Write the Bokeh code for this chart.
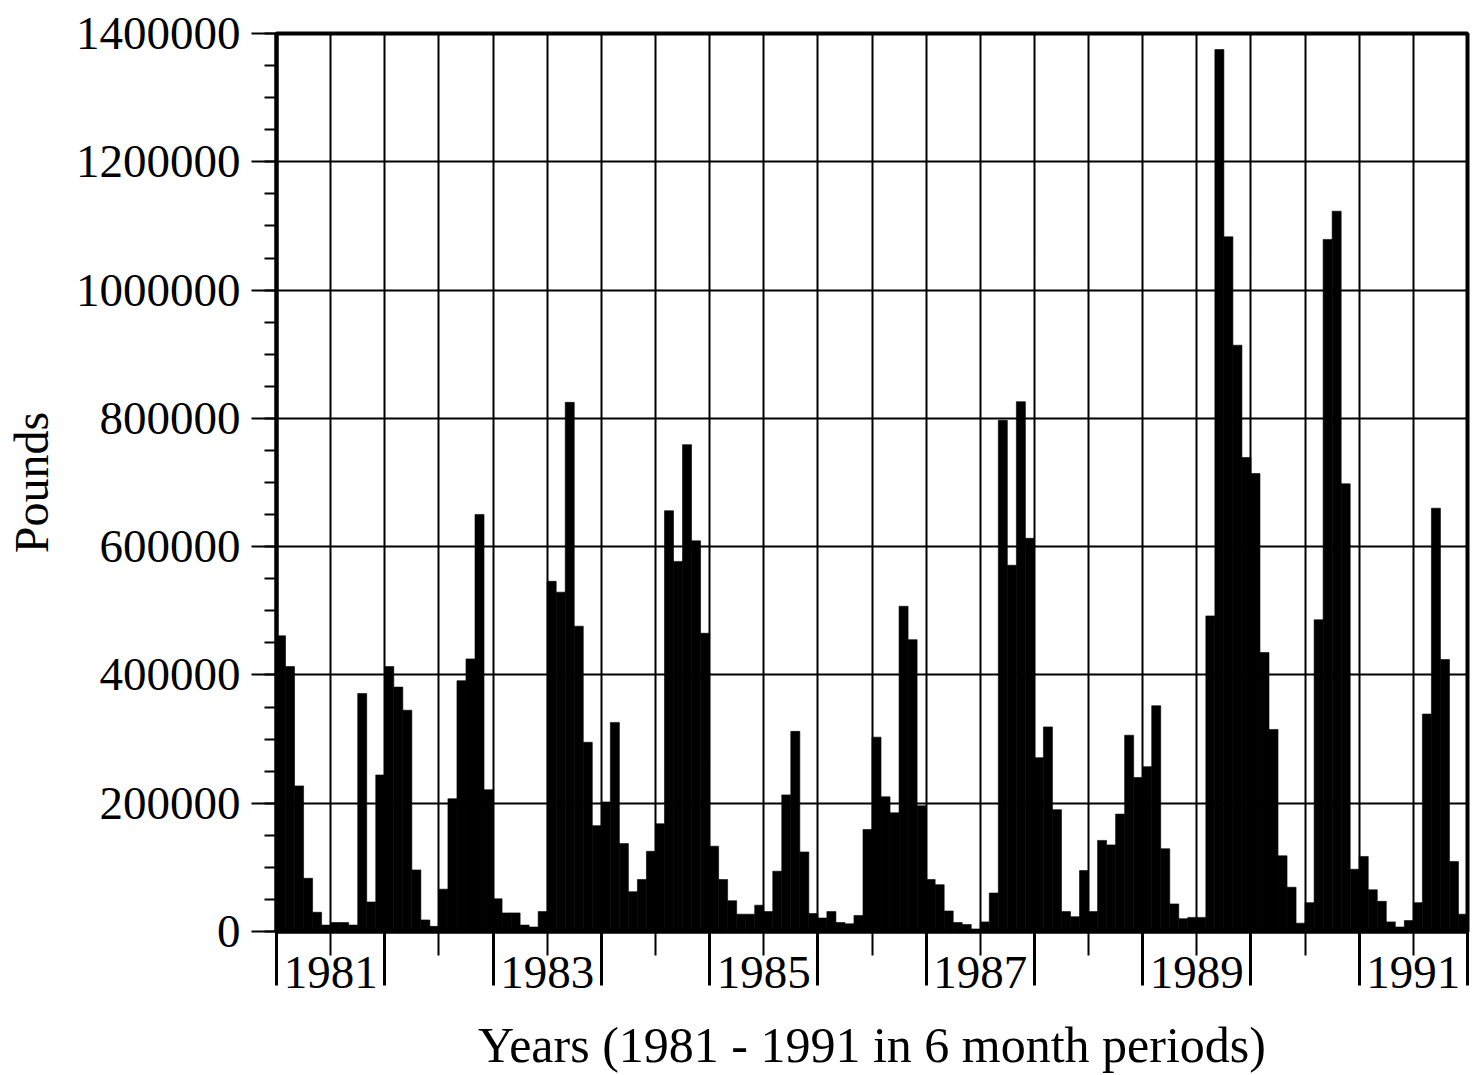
from bokeh.plotting import figure
from bokeh.models import Range1d, FixedTicker, NumeralTickFormatter
from bokeh.embed import file_html
from bokeh.resources import INLINE

# Monthly pounds (Jan..Dec of each year)
pounds_1981 = [461000, 413000, 227000, 83000, 30000, 10000, 14000, 14000, 10000, 371000, 46000, 244000]
pounds_1982 = [413000, 381000, 345000, 96000, 18000, 8000, 66000, 207000, 391000, 425000, 650000, 221000]
pounds_1983 = [51000, 29000, 29000, 10000, 7000, 31000, 546000, 529000, 825000, 476000, 295000, 165000]
pounds_1984 = [202000, 326000, 137000, 62000, 81000, 125000, 168000, 656000, 577000, 759000, 609000, 465000]
pounds_1985 = [133000, 81000, 48000, 27000, 27000, 41000, 31000, 94000, 213000, 312000, 124000, 28000]
pounds_1986 = [21000, 31000, 14000, 12000, 25000, 159000, 303000, 210000, 185000, 507000, 455000, 196000]
pounds_1987 = [81000, 73000, 32000, 14000, 11000, 4000, 15000, 60000, 797000, 571000, 826000, 613000]
pounds_1988 = [271000, 319000, 190000, 31000, 23000, 95000, 31000, 142000, 135000, 183000, 306000, 240000]
pounds_1989 = [257000, 352000, 129000, 43000, 20000, 22000, 22000, 492000, 1375000, 1083000, 914000, 739000]
pounds_1990 = [714000, 435000, 315000, 118000, 69000, 13000, 45000, 486000, 1079000, 1123000, 698000, 97000]
pounds_1991 = [117000, 65000, 47000, 15000, 7000, 17000, 45000, 339000, 660000, 424000, 109000, 27000]

years = [1981, 1982, 1983, 1984, 1985, 1986, 1987, 1988, 1989, 1990, 1991]
year_labels = ["1981", "", "1983", "", "1985", "", "1987", "", "1989", "", "1991"]
y_ticks = [0, 200000, 400000, 600000, 800000, 1000000, 1200000, 1400000]
y_minor_step = 50000

series = [pounds_1981, pounds_1982, pounds_1983, pounds_1984, pounds_1985, pounds_1986,
          pounds_1987, pounds_1988, pounds_1989, pounds_1990, pounds_1991]

xs, tops = [], []
for yr, vals in zip(years, series):
    for m, v in enumerate(vals):
        xs.append(yr + (m + 0.5) / 12.0)
        tops.append(v)

x_start = years[0]
x_end = years[-1] + 1
half_years = [x_start + k * 0.5 for k in range(2 * (x_end - x_start) + 1)]
year_bounds = [x_start + k for k in range(x_end - x_start + 1)]
year_centers = [y + 0.5 for y in years]

FONT = "Liberation Serif"

p = figure(width=1475, height=1075, output_backend="svg", toolbar_location=None,
           x_range=Range1d(x_start, x_end), y_range=Range1d(0, y_ticks[-1]),
           min_border_left=276, min_border_right=8, min_border_top=33, min_border_bottom=143)
p.background_fill_color = "white"
p.border_fill_color = "white"
p.outline_line_color = "black"
p.outline_line_width = 4

p.vbar(x=xs, top=tops, bottom=0, width=1 / 12.0, fill_color="black", line_color="black", line_width=0.6)

# grids
p.xgrid.ticker = FixedTicker(ticks=half_years)
p.ygrid.ticker = FixedTicker(ticks=y_ticks)
for g in (p.xgrid, p.ygrid):
    g.grid_line_color = "black"
    g.grid_line_width = 2
    g.grid_line_alpha = 1.0

# x axis
xa = p.xaxis[0]
xa.ticker = FixedTicker(ticks=year_centers, minor_ticks=year_bounds)
xa.major_label_overrides = {c: lab for c, lab in zip(year_centers, year_labels)}
xa.major_tick_in = 0
xa.major_tick_out = 24
xa.major_tick_line_width = 2
xa.minor_tick_in = 0
xa.minor_tick_out = 54
xa.minor_tick_line_width = 3
xa.axis_line_width = 4
xa.major_label_standoff = -29
xa.major_label_text_font = FONT
xa.major_label_text_font_size = "47px"
xa.major_label_text_color = "black"
xa.axis_label = "Years (1981 - 1991 in 6 month periods)"
xa.axis_label_text_font = FONT
xa.axis_label_text_font_size = "50px"
xa.axis_label_text_font_style = "normal"
xa.axis_label_text_color = "black"
xa.axis_label_standoff = 26

# y axis
ya = p.yaxis[0]
ya.ticker = FixedTicker(ticks=y_ticks,
                        minor_ticks=list(range(0, y_ticks[-1] + 1, y_minor_step)))
ya.formatter = NumeralTickFormatter(format="0")
ya.major_tick_in = 0
ya.major_tick_out = 25
ya.major_tick_line_width = 2
ya.minor_tick_in = 0
ya.minor_tick_out = 12
ya.minor_tick_line_width = 2
ya.axis_line_width = 4
ya.major_label_standoff = 11
ya.major_label_text_font = FONT
ya.major_label_text_font_size = "47px"
ya.major_label_text_color = "black"
ya.axis_label = "Pounds"
ya.axis_label_text_font = FONT
ya.axis_label_text_font_size = "48px"
ya.axis_label_text_font_style = "normal"
ya.axis_label_text_color = "black"
ya.axis_label_standoff = 15

open("out.html", "w").write(file_html(p, INLINE))
